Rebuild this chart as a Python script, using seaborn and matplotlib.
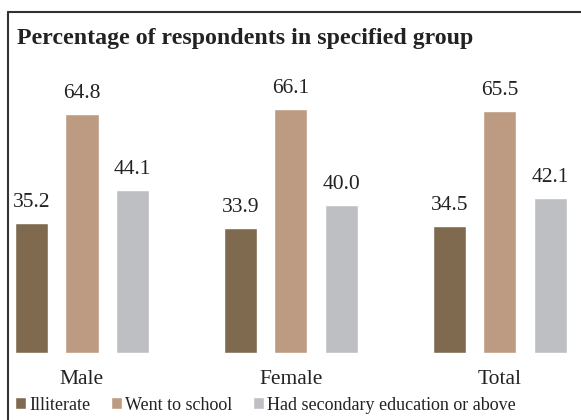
import pandas as pd
import matplotlib.pyplot as plt
import seaborn as sns
from matplotlib.patches import Patch
from matplotlib.lines import Line2D

# datos
grupos = ['Male', 'Female', 'Total']
series = ['Illiterate', 'Went to school', 'Had secondary education or above']
illiterate = [35.2, 33.9, 34.5]
went_to_school = [64.8, 66.1, 65.5]
secondary = [44.1, 40.0, 42.1]
colores = ['#7F6A50', '#BC9B82', '#BEBFC3']

datos = pd.DataFrame({
    'grupo': grupos * 3,
    'serie': [series[0]] * 3 + [series[1]] * 3 + [series[2]] * 3,
    'valor': illiterate + went_to_school + secondary,
})

sns.set_style('white')
plt.rcParams['font.family'] = ['Liberation Serif', 'DejaVu Serif']

fig = plt.figure(figsize=(5.81, 4.2), dpi=100)
ax = fig.add_axes([8 / 581, 0.1595, 1 - 8 / 581, 0.65])

sns.barplot(data=datos, x='grupo', y='valor', hue='serie', order=grupos,
            hue_order=series, palette=colores, width=0.72, gap=0.34,
            saturation=1, legend=False, ax=ax)

for cont in ax.containers:
    ax.bar_label(cont, fmt='%.1f', padding=8, fontsize=15.5, color='#222222')

ax.set_xlim(-0.354, 2.388)
ax.set_ylim(0, 74)
ax.set_xlabel('')
ax.set_ylabel('')
ax.set_yticks([])
ax.tick_params(axis='x', length=0, pad=12, labelsize=15.5, labelcolor='#222222')
for s in ax.spines.values():
    s.set_visible(False)

# marco: linea superior e izquierda
fig.add_artist(Line2D([7.5 / 581, 1], [1 - 12 / 420, 1 - 12 / 420],
                      transform=fig.transFigure, color='#333333', lw=1.5))
fig.add_artist(Line2D([7.5 / 581, 7.5 / 581], [0, 1 - 12 / 420],
                      transform=fig.transFigure, color='#333333', lw=1.5))

fig.text(17 / 581, 1 - 44 / 420, 'Percentage of respondents in specified group',
         fontsize=17.2, fontweight='bold', color='#222222', va='baseline')

handles = [Patch(facecolor=c, label=s) for c, s in zip(colores, series)]
fig.legend(handles=handles, loc='center left', bbox_to_anchor=(15 / 581, 15 / 420),
           ncol=3, frameon=False, fontsize=13, handlelength=0.62, handleheight=0.62,
           handletextpad=0.15, columnspacing=1.15, borderpad=0, borderaxespad=0,
           labelcolor='#222222')

fig.savefig('out.png', dpi=100)
